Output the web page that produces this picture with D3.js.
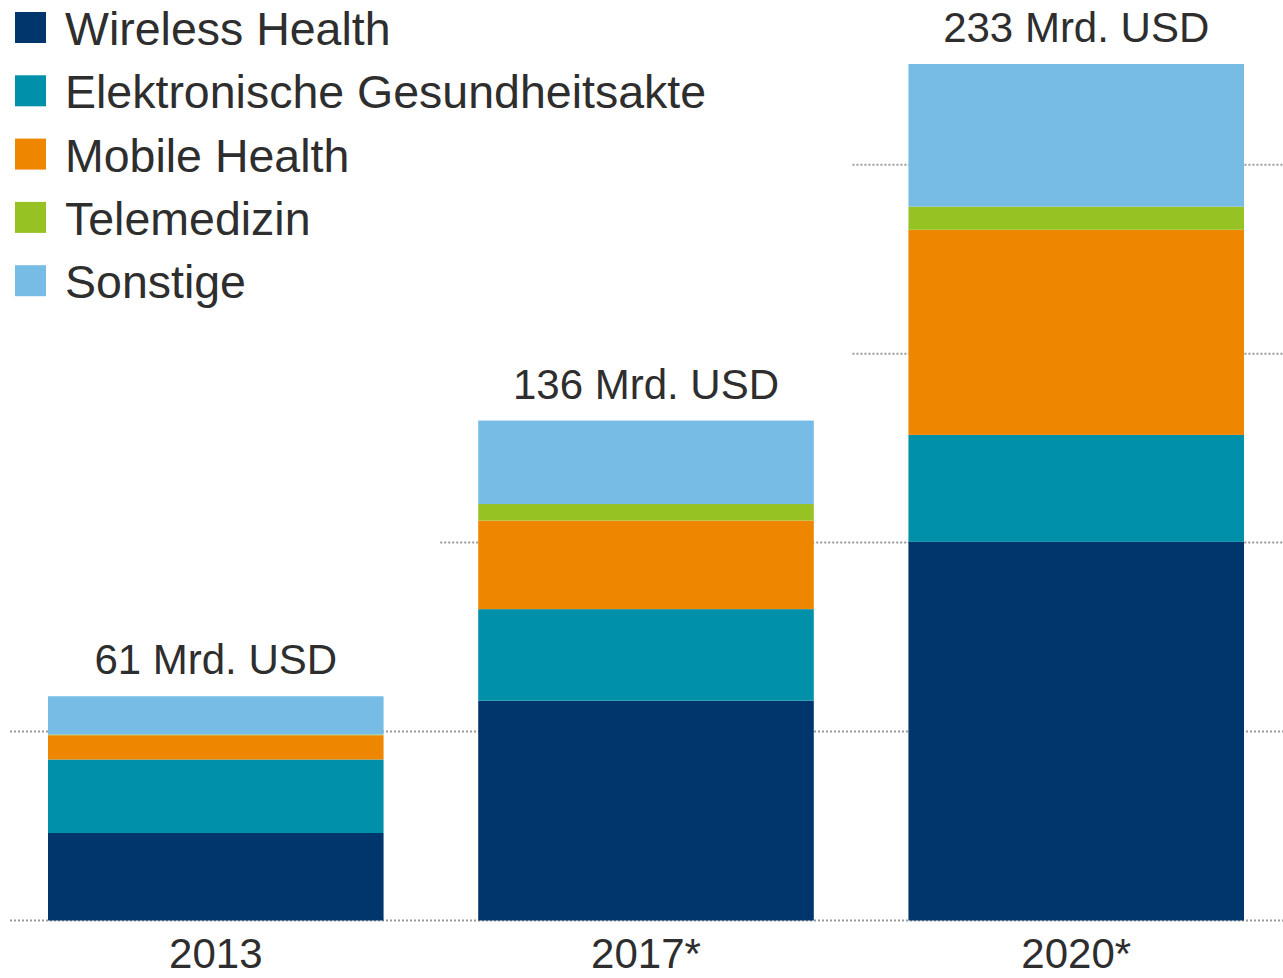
<!DOCTYPE html>
<html lang="de">
<head>
    <meta charset="UTF-8">
    <title>Digital Health Markt</title>
    <script src="https://d3js.org/d3.v7.min.js"></script>
    <style>
        body { margin: 0; background: #fff; }
        text { font-family: "Liberation Sans", Arial, sans-serif; fill: #2e2e2e; }
    </style>
</head>
<body>
    <div id="chart"></div>
    <script>
        // data (Mrd. USD)
        const years = ["2013", "2017*", "2020*"];
        const totals = ["61 Mrd. USD", "136 Mrd. USD", "233 Mrd. USD"];
        const seriesNames = ["Wireless Health", "Elektronische Gesundheitsakte", "Mobile Health", "Telemedizin", "Sonstige"];
        const wireless = [23.8, 59.8, 103.0];
        const ehr = [20.0, 24.9, 29.1];
        const mobile = [6.6, 24.1, 55.8];
        const telemed = [0.2, 4.5, 6.3];
        const sonstige = [10.4, 22.7, 38.8];
        const gridValues = [0, 51.4, 102.8, 154.2, 205.6];

        const colors = ["#00366b", "#0090aa", "#ee8600", "#97c224", "#76bce4"];

        const w = 1283;
        const h = 978;
        const baseY = 920.5;
        const topY = 64;

        const rows = years.map((y, i) => ({
            year: y,
            s0: wireless[i], s1: ehr[i], s2: mobile[i], s3: telemed[i], s4: sonstige[i]
        }));
        const keys = ["s0", "s1", "s2", "s3", "s4"];
        const stacked = d3.stack().keys(keys)(rows);
        const maxTotal = d3.max(rows, d => d3.sum(keys, k => d[k]));

        const xScale = d3.scaleBand()
            .domain(years)
            .range([48, 1244])
            .paddingInner(0.22)
            .paddingOuter(0);
        const yScale = d3.scaleLinear()
            .domain([0, maxTotal])
            .range([baseY, topY]);

        const svg = d3.select("#chart")
            .append("svg")
            .attr("width", w)
            .attr("height", h);

        // dotted grid lines, starting just left of the first bar that reaches them
        svg.append("g")
            .selectAll("line")
            .data(gridValues)
            .enter()
            .append("line")
            .attr("x1", v => {
                const idx = rows.findIndex(r => d3.sum(keys, k => r[k]) > v);
                const off = idx === 2 ? 56 : 38;
                return xScale(years[idx]) - off;
            })
            .attr("x2", w)
            .attr("y1", v => yScale(v))
            .attr("y2", v => yScale(v))
            .attr("stroke", "#9a9a9a")
            .attr("stroke-width", 2)
            .attr("stroke-dasharray", "2,2");

        svg.append("g")
            .selectAll("g")
            .data(stacked)
            .enter()
            .append("g")
            .attr("fill", (d, i) => colors[i])
            .selectAll("rect")
            .data(d => d)
            .enter()
            .append("rect")
            .attr("x", d => xScale(d.data.year))
            .attr("y", d => yScale(d[1]))
            .attr("width", xScale.bandwidth())
            .attr("height", d => yScale(d[0]) - yScale(d[1]));

        // total labels above bars
        svg.append("g")
            .selectAll("text")
            .data(rows)
            .enter()
            .append("text")
            .attr("x", d => xScale(d.year) + xScale.bandwidth() / 2)
            .attr("y", d => yScale(d3.sum(keys, k => d[k])) - 22)
            .attr("text-anchor", "middle")
            .attr("font-size", 42)
            .text((d, i) => totals[i]);

        // year labels
        svg.append("g")
            .selectAll("text")
            .data(years)
            .enter()
            .append("text")
            .attr("x", d => xScale(d) + xScale.bandwidth() / 2)
            .attr("y", 968)
            .attr("text-anchor", "middle")
            .attr("font-size", 42)
            .text(d => d);

        // legend
        const legend = svg.append("g")
            .selectAll("g")
            .data(seriesNames)
            .enter()
            .append("g")
            .attr("transform", (d, i) => "translate(15," + (12 + i * 63.3) + ")");
        legend.append("rect")
            .attr("width", 31)
            .attr("height", 31)
            .attr("fill", (d, i) => colors[i]);
        legend.append("text")
            .attr("x", 50)
            .attr("y", 33)
            .attr("font-size", 46.5)
            .text(d => d);
    </script>
</body>
</html>
